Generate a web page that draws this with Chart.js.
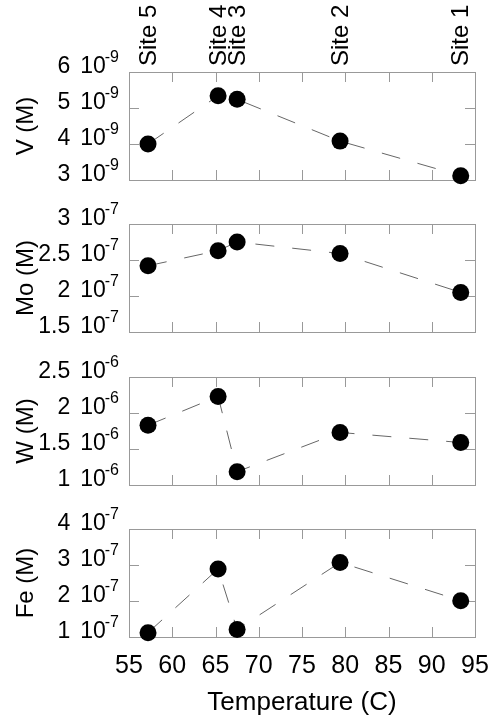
<!DOCTYPE html>
<html>
<head>
<meta charset="utf-8">
<script src="https://cdn.jsdelivr.net/npm/chart.js@4.4.1/dist/chart.umd.min.js"></script>
<style>
  html, body { margin: 0; padding: 0; background: #fff; }
  #wrap { position: relative; width: 504px; height: 722px; }
  #wrap canvas { position: absolute; left: 0; top: 0; }
</style>
</head>
<body>
<div id="wrap">
  <canvas id="panelV" width="504" height="722"></canvas>
  <canvas id="panelMo" width="504" height="722"></canvas>
  <canvas id="panelW" width="504" height="722"></canvas>
  <canvas id="panelFe" width="504" height="722"></canvas>
</div>
<script>
// sites sorted by temperature (line joins them in this order)
const sites       = ['Site 5', 'Site 4', 'Site 3', 'Site 2', 'Site 1'];
const temperature = [57.2, 65.3, 67.5, 79.4, 93.35];

const vMolar  = [4.0e-9, 5.34e-9, 5.24e-9, 4.08e-9, 3.12e-9];
const moMolar = [2.42e-7, 2.63e-7, 2.75e-7, 2.59e-7, 2.05e-7];
const wMolar  = [1.83e-6, 2.23e-6, 1.185e-6, 1.73e-6, 1.59e-6];
const feMolar = [1.12e-7, 2.89e-7, 1.21e-7, 3.07e-7, 2.01e-7];

const xTicks  = [55, 60, 65, 70, 75, 80, 85, 90, 95];
const vTicks  = [3e-9, 4e-9, 5e-9, 6e-9];
const moTicks = [1.5e-7, 2e-7, 2.5e-7, 3e-7];
const wTicks  = [1e-6, 1.5e-6, 2e-6, 2.5e-6];
const feTicks = [1e-7, 2e-7, 3e-7, 4e-7];

const FONT = "'Liberation Sans', Arial, sans-serif";
const FRAME = '#999';

const panels = [
  { id: 'panelV',  title: 'V (M)',  data: vMolar,  ticks: vTicks,  exp: -9, top: 72 },
  { id: 'panelMo', title: 'Mo (M)', data: moMolar, ticks: moTicks, exp: -7, top: 224 },
  { id: 'panelW',  title: 'W (M)',  data: wMolar,  ticks: wTicks,  exp: -6, top: 377 },
  { id: 'panelFe', title: 'Fe (M)', data: feMolar, ticks: feTicks, exp: -7, top: 529 }
];
const PANEL_H = 108;

// frame, inward ticks, labels and titles, placed from the chart's own scales
const framePlugin = {
  id: 'frame',
  beforeDatasetsDraw(chart, args, opts) {
    const { ctx, chartArea: a, scales } = chart;
    const xs = scales.x, ys = scales.y;
    const TL = 10;
    ctx.save();
    ctx.strokeStyle = FRAME;
    ctx.lineWidth = 1;
    ctx.strokeRect(a.left + 0.5, a.top + 0.5, a.right - a.left, a.bottom - a.top);
    ctx.beginPath();
    xTicks.forEach(t => {
      const px = Math.round(xs.getPixelForValue(t)) + 0.5;
      ctx.moveTo(px, a.bottom); ctx.lineTo(px, a.bottom - TL);
      ctx.moveTo(px, a.top);    ctx.lineTo(px, a.top + TL);
    });
    opts.ticks.forEach(t => {
      const py = Math.round(ys.getPixelForValue(t)) + 0.5;
      ctx.moveTo(a.left, py);  ctx.lineTo(a.left + TL, py);
      ctx.moveTo(a.right, py); ctx.lineTo(a.right - TL, py);
    });
    ctx.stroke();

    // y tick labels like "6 10^-9"
    ctx.fillStyle = '#000';
    const supRight = a.left - 10;
    const sup = String(opts.exp);
    opts.ticks.forEach(t => {
      const py = ys.getPixelForValue(t);
      const mant = Math.round(t / Math.pow(10, opts.exp) * 100) / 100;
      ctx.textAlign = 'right';
      ctx.textBaseline = 'alphabetic';
      ctx.font = '16px ' + FONT;
      const supW = ctx.measureText(sup).width;
      ctx.fillText(sup, supRight, py - 10);
      ctx.font = '23px ' + FONT;
      const tenRight = supRight - supW + 1;
      const tenW = ctx.measureText('10').width;
      ctx.fillText('10', tenRight, py + 1);
      ctx.fillText(String(mant), tenRight - tenW - 10, py + 1);
    });

    // y title
    ctx.save();
    ctx.translate(33, (a.top + a.bottom) / 2);
    ctx.rotate(-Math.PI / 2);
    ctx.font = '24px ' + FONT;
    ctx.textAlign = 'center';
    ctx.textBaseline = 'alphabetic';
    ctx.fillText(opts.title, 0, 0);
    ctx.restore();

    if (opts.showSites) {
      ctx.font = '24px ' + FONT;
      ctx.textAlign = 'left';
      ctx.textBaseline = 'middle';
      sites.forEach((s, i) => {
        ctx.save();
        ctx.translate(xs.getPixelForValue(temperature[i]) + 1, a.top - 6);
        ctx.rotate(-Math.PI / 2);
        ctx.fillText(s, 0, 0);
        ctx.restore();
      });
    }

    if (opts.showXAxis) {
      ctx.font = '25px ' + FONT;
      ctx.textAlign = 'center';
      ctx.textBaseline = 'alphabetic';
      xTicks.forEach(t => ctx.fillText(String(t), xs.getPixelForValue(t), a.bottom + 36));
      ctx.font = '26px ' + FONT;
      ctx.fillText('Temperature (C)', (a.left + a.right) / 2, a.bottom + 73);
    }
    ctx.restore();
  }
};

panels.forEach((p, idx) => {
  const ctx = document.getElementById(p.id).getContext('2d');
  new Chart(ctx, {
    type: 'line',
    data: {
      datasets: [{
        data: temperature.map((t, i) => ({ x: t, y: p.data[i] })),
        borderColor: '#666',
        borderWidth: 1,
        borderDash: [19, 18],
        pointRadius: 8.5,
        pointBackgroundColor: '#000',
        pointBorderWidth: 0,
        tension: 0,
        clip: false
      }]
    },
    options: {
      responsive: false,
      animation: false,
      events: [],
      layout: { padding: { left: 129, right: 29, top: p.top, bottom: 722 - p.top - PANEL_H } },
      plugins: {
        legend: { display: false },
        tooltip: { enabled: false },
        frame: {
          ticks: p.ticks,
          exp: p.exp,
          title: p.title,
          showSites: idx === 0,
          showXAxis: idx === panels.length - 1
        }
      },
      scales: {
        x: { type: 'linear', display: false, min: 55, max: 95 },
        y: { type: 'linear', display: false, min: p.ticks[0], max: p.ticks[p.ticks.length - 1] }
      }
    },
    plugins: [framePlugin]
  });
});
</script>
</body>
</html>
